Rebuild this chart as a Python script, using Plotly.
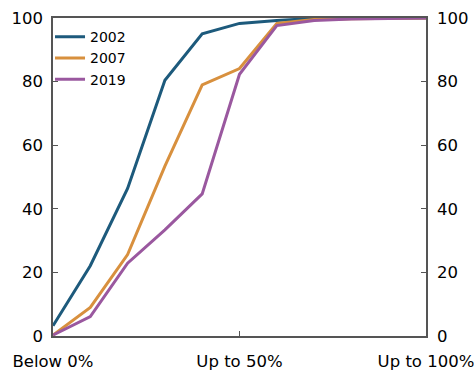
import plotly.graph_objects as go

x_pos = [0, 1, 2, 3, 4, 5, 6, 7, 8, 9, 10]
tick_vals = [0, 5, 10]
tick_text = ["Below 0%", "Up to 50%", "Up to 100%"]
y_ticks = [0, 20, 40, 60, 80, 100]

s2002 = [3.2, 22.1, 46.4, 80.4, 95.0, 98.3, 99.2, 99.9, 100, 100, 100]
s2007 = [0.3, 9.0, 25.6, 53.4, 79.0, 84.1, 98.3, 99.5, 99.8, 100, 100]
s2019 = [0.3, 6.1, 22.9, 33.4, 44.7, 82.3, 97.6, 99.2, 99.7, 99.9, 100]

series = [("2002", s2002, "#1d5a7c"), ("2007", s2007, "#d8903e"), ("2019", s2019, "#9a589f")]

fig = go.Figure()
for name, vals, col in series:
    fig.add_trace(go.Scatter(x=x_pos, y=vals, name=name, mode="lines",
                             line=dict(color=col, width=3)))
# invisible trace for right axis
fig.add_trace(go.Scatter(x=x_pos, y=s2002, yaxis="y2", showlegend=False,
                         mode="lines", line=dict(width=0), hoverinfo="skip", opacity=0))

axcol = "#555555"
fig.update_layout(
    width=474, height=372,
    margin=dict(l=53, r=48, t=18, b=36),
    paper_bgcolor="white", plot_bgcolor="white",
    font=dict(family="DejaVu Sans, sans-serif", size=16.5, color="black"),
    showlegend=True,
    legend=dict(x=-0.008, y=0.99, xanchor="left", yanchor="top",
                bgcolor="rgba(0,0,0,0)", font=dict(size=14),
                tracegroupgap=0, itemwidth=30),
    xaxis=dict(range=[0, 10], tickvals=tick_vals, ticktext=tick_text, automargin=False,
               showgrid=False, zeroline=False, showline=True, linecolor=axcol,
               linewidth=1.5, mirror=True, ticks="inside", ticklen=5, tickcolor=axcol,
               ticklabelstandoff=9, ticklabeloverflow="allow"),
    yaxis=dict(range=[0, 100], tickvals=y_ticks, showgrid=False, zeroline=False,
               automargin=False, showline=True, linecolor=axcol, linewidth=1.5,
               ticks="inside", ticklen=5, tickcolor=axcol, ticklabelstandoff=5,
               ticklabeloverflow="allow"),
    yaxis2=dict(range=[0, 100], tickvals=y_ticks, overlaying="y", side="right",
                automargin=False, showgrid=False, zeroline=False, showline=True,
                linecolor=axcol, linewidth=1.5, ticks="inside", ticklen=5,
                tickcolor=axcol, ticklabelstandoff=6, ticklabeloverflow="allow"),
)
fig.write_html("out.html", config={"displayModeBar": False},
               post_script="document.body.style.margin='0px';document.body.style.overflow='hidden';")
